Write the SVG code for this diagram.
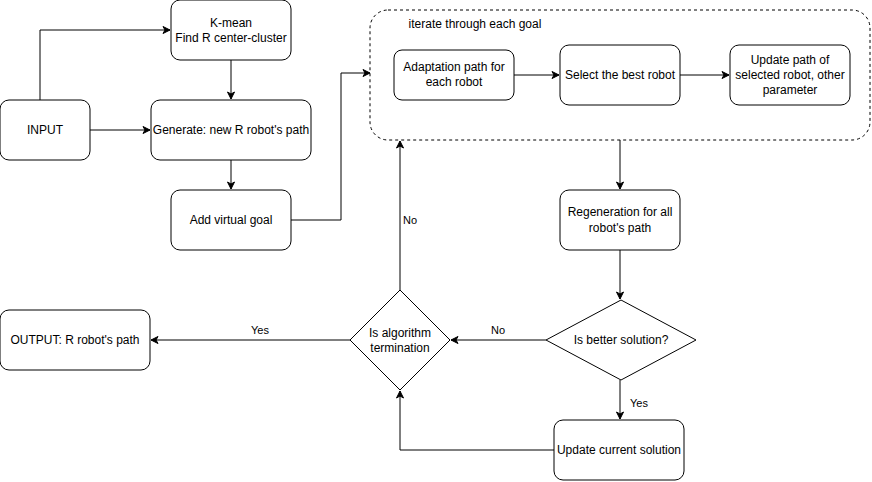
<svg xmlns="http://www.w3.org/2000/svg" width="872" height="482" viewBox="0 0 872 482">
<defs>
<marker id="arr" markerWidth="10" markerHeight="10" refX="8" refY="5" orient="auto" markerUnits="userSpaceOnUse">
<path d="M1,1.5 L8,5 L1,8.5 L3,5 Z" fill="#000" stroke="#000" stroke-width="1"/>
</marker>
</defs>
<style>
.box{fill:#fff;stroke:#000;stroke-width:1}
.cont{fill:none;stroke:#000;stroke-width:1;stroke-dasharray:3,3}
.t{font-family:"Liberation Sans",Arial,sans-serif;font-size:12px;fill:#000;text-anchor:middle;dominant-baseline:central}
.lbl{font-family:"Liberation Sans",Arial,sans-serif;font-size:11px;fill:#000;text-anchor:middle;dominant-baseline:central}
.c{fill:none;stroke:#000;stroke-width:1;marker-end:url(#arr)}
</style>
<rect width="872" height="482" fill="#fff"/>
<g id="connectors">
<path class="c" d="M40,100 V30 H170"/>
<path class="c" d="M90,130 H150"/>
<path class="c" d="M231,60 V99"/>
<path class="c" d="M231,160 V189"/>
<path class="c" d="M291,220 H341 V73 H370"/>
<path class="c" d="M514,75 H559"/>
<path class="c" d="M680,75 H729"/>
<path class="c" d="M620,140 V189"/>
<path class="c" d="M620,250 V299"/>
<path class="c" d="M546,340 H451"/>
<path class="c" d="M350,340 H151"/>
<path class="c" d="M620,380 V419"/>
<path class="c" d="M554,450 H400 V391"/>
<path class="c" d="M400,290 V141"/>
<text class="lbl" x="410" y="220">No</text>
<text class="lbl" x="498" y="330">No</text>
<text class="lbl" x="260" y="330">Yes</text>
<text class="lbl" x="639" y="403">Yes</text>
</g>
<g id="container">
<rect class="cont" x="370" y="10" width="500" height="130" rx="18"/>
<text class="t" x="475" y="24">iterate through each goal</text>
</g>
<g id="input"><rect class="box" x="0" y="100" width="90" height="60" rx="9"/><text class="t" x="45" y="130">INPUT</text></g>
<g id="kmean"><rect class="box" x="171" y="0" width="120" height="60" rx="9"/><text class="t" x="231" y="23">K-mean</text><text class="t" x="231" y="38">Find R center-cluster</text></g>
<g id="generate"><rect class="box" x="151" y="100" width="160" height="60" rx="9"/><text class="t" x="231" y="130">Generate: new R robot's path</text></g>
<g id="virtual"><rect class="box" x="171" y="190" width="120" height="60" rx="9"/><text class="t" x="231" y="220">Add virtual goal</text></g>
<g id="adapt"><rect class="box" x="394" y="50" width="120" height="50" rx="8"/><text class="t" x="454" y="67">Adaptation path for</text><text class="t" x="454" y="82">each robot</text></g>
<g id="select"><rect class="box" x="560" y="45" width="120" height="60" rx="9"/><text class="t" x="620" y="75">Select the best robot</text></g>
<g id="update"><rect class="box" x="730" y="45" width="120" height="60" rx="9"/><text class="t" x="790" y="60">Update path of</text><text class="t" x="790" y="75">selected robot, other</text><text class="t" x="790" y="90">parameter</text></g>
<g id="regen"><rect class="box" x="560" y="190" width="120" height="60" rx="9"/><text class="t" x="620" y="212">Regeneration for all</text><text class="t" x="620" y="228">robot's path</text></g>
<g id="better"><polygon class="box" points="621,300 696,340 621,380 546,340"/><text class="t" x="621" y="340">Is better solution?</text></g>
<g id="termination"><polygon class="box" points="400,290 450,340 400,390 350,340"/><text class="t" x="400" y="333">Is algorithm</text><text class="t" x="400" y="348">termination</text></g>
<g id="output"><rect class="box" x="0" y="310" width="150" height="60" rx="9"/><text class="t" x="75" y="340">OUTPUT: R robot's path</text></g>
<g id="current"><rect class="box" x="554" y="420" width="130" height="60" rx="9"/><text class="t" x="619" y="450">Update current solution</text></g>
</svg>
